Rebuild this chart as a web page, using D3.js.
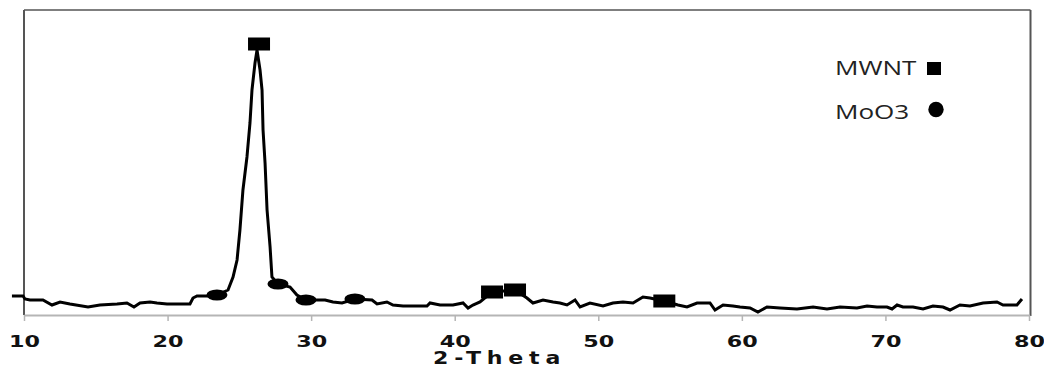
<!DOCTYPE html>
<html lang="en">
<head>
<meta charset="utf-8" />
<title>XRD pattern</title>
<script src="https://d3js.org/d3.v7.min.js"></script>
<style>
  html, body { margin: 0; padding: 0; background: #fff; }
  svg { display: block; }
</style>
</head>
<body>
<div id="chart"></div>
<script>
// diffraction trace (2-theta in degrees, intensity in a.u.)
var twoTheta = [9.16, 9.93, 10.07, 10.42, 11.32, 11.95, 12.51, 13.20, 14.46, 15.29,
  16.48, 17.17, 17.66, 18.08, 18.78, 19.26, 19.96, 21.56, 21.77, 22.05,
  22.75, 23.44, 24.21, 24.56, 24.84, 25.04, 25.25, 25.53, 25.74, 25.88,
  26.09, 26.23, 26.44, 26.58, 26.65, 26.79, 26.93, 27.14, 27.27, 27.69,
  28.53, 29.01, 29.64, 30.48, 30.97, 31.52, 32.15, 33.05, 34.24, 34.59,
  35.28, 35.70, 36.40, 38.07, 38.28, 38.98, 39.88, 40.58, 40.93, 41.27,
  41.76, 42.60, 44.20, 45.03, 45.45, 46.15, 46.85, 47.33, 47.82, 48.38,
  48.73, 49.42, 50.33, 51.02, 51.72, 52.42, 53.11, 53.60, 54.58, 55.55,
  56.18, 56.88, 57.78, 58.13, 58.69, 59.38, 59.87, 60.57, 61.12, 61.75,
  62.66, 63.84, 64.96, 65.93, 66.84, 68.02, 68.72, 69.41, 70.11, 70.46,
  70.81, 71.22, 71.92, 72.62, 73.31, 74.01, 74.50, 75.19, 75.89, 76.80,
  77.77, 78.19, 79.16, 79.51];
var intensity = [76, 76, 64, 60, 60, 40, 52, 44, 32, 40,
  44, 48, 32, 48, 52, 48, 44, 44, 68, 76,
  76, 80, 100, 152, 220, 340, 500, 632, 768, 900,
  1008, 1060, 980, 900, 740, 608, 420, 272, 152, 124,
  112, 80, 60, 60, 60, 52, 48, 64, 60, 44,
  52, 40, 36, 36, 48, 40, 40, 48, 28, 40,
  52, 92, 100, 68, 48, 60, 52, 48, 40, 60,
  32, 48, 36, 48, 52, 48, 72, 68, 56, 40,
  32, 48, 48, 20, 40, 36, 32, 28, 12, 32,
  28, 24, 32, 24, 32, 28, 36, 32, 32, 24,
  40, 32, 32, 24, 36, 32, 20, 40, 36, 48,
  52, 40, 40, 64];

// phase markers
var mwntTheta = [26.37, 42.6, 44.2, 54.6];
var mwntInt = [1084, 92, 100, 56];
var mooTheta = [23.44, 27.69, 29.64, 33.05];
var mooInt = [80, 124, 60, 64];

var xTicks = [10, 20, 30, 40, 50, 60, 70, 80];
var legendLabels = ["MWNT", "MoO3"];
var xTitle = "2-Theta";

var width = 1044, height = 367;
// plot box (window.top is reserved, so use own names)
var plotLeft = 24, plotRight = 1029, plotTop = 10, plotBottom = 315;

var x = d3.scaleLinear().domain([10, 80]).range([plotLeft, plotRight]);
var y = d3.scaleLinear().domain([0, 1220]).range([plotBottom, plotTop]);

var svg = d3.select("#chart").append("svg")
    .attr("width", width)
    .attr("height", height);

// frame: top, left and right in dark grey
svg.append("line")
    .attr("x1", plotLeft).attr("x2", plotRight + 1.5)
    .attr("y1", plotTop).attr("y2", plotTop)
    .attr("stroke", "#555").attr("stroke-width", 1.5);
svg.append("line")
    .attr("x1", plotLeft).attr("x2", plotLeft)
    .attr("y1", plotTop).attr("y2", plotBottom)
    .attr("stroke", "#555").attr("stroke-width", 2);
svg.append("line")
    .attr("x1", plotRight + 1.5).attr("x2", plotRight + 1.5)
    .attr("y1", plotTop).attr("y2", plotBottom + 1)
    .attr("stroke", "#555").attr("stroke-width", 2);

// bottom axis, light grey
var xAxis = d3.axisBottom(x)
    .tickValues(xTicks)
    .tickSize(6)
    .tickSizeOuter(0)
    .tickFormat(d3.format("d"));

var gx = svg.append("g")
    .attr("transform", "translate(0," + plotBottom + ")")
    .call(xAxis);
gx.select(".domain").attr("stroke", "#b5b5b5").attr("stroke-width", 2);
gx.selectAll(".tick line").attr("stroke", "#b5b5b5").attr("stroke-width", 1.5);
gx.selectAll(".tick text")
    .attr("y", 32)
    .attr("dy", null)
    .attr("fill", "#111")
    .attr("font-family", "DejaVu Sans")
    .attr("font-weight", "bold")
    .attr("font-size", 16.5)
    .attr("transform", "scale(1.35,1)");

// axis title
svg.append("g")
    .attr("transform", "translate(433,364) scale(1.3,1)")
    .append("text")
    .attr("x", 0)
    .attr("font-family", "DejaVu Sans")
    .attr("font-weight", "bold")
    .attr("font-size", 17)
    .attr("fill", "#111")
    .attr("textLength", 98)
    .attr("lengthAdjust", "spacing")
    .text(xTitle);

// the trace
var pts = twoTheta.map(function(t, i) { return [t, intensity[i]]; });
var line = d3.line()
    .x(function(d) { return x(d[0]); })
    .y(function(d) { return y(d[1]); });

svg.append("path")
    .datum(pts)
    .attr("fill", "none")
    .attr("stroke", "#000")
    .attr("stroke-width", 3)
    .attr("stroke-linejoin", "miter")
    .attr("d", line);

// MWNT markers (squares, stretched like the picture)
svg.selectAll("rect.mwnt")
    .data(mwntTheta)
    .enter()
    .append("rect")
    .attr("class", "mwnt")
    .attr("x", function(d) { return x(d) - 11; })
    .attr("y", function(d, i) { return y(mwntInt[i]) - 6.5; })
    .attr("width", 22)
    .attr("height", 13)
    .attr("fill", "#000");

// MoO3 markers (dots)
svg.selectAll("ellipse.moo")
    .data(mooTheta)
    .enter()
    .append("ellipse")
    .attr("class", "moo")
    .attr("cx", function(d) { return x(d); })
    .attr("cy", function(d, i) { return y(mooInt[i]); })
    .attr("rx", 10.5)
    .attr("ry", 5.5)
    .attr("fill", "#000");

// legend
var legend = svg.append("g").attr("transform", "translate(835,0)");
legend.selectAll("text")
    .data(legendLabels)
    .enter()
    .append("text")
    .attr("transform", function(d, i) { return "translate(0," + (75 + i * 44) + ") scale(1.27,1)"; })
    .attr("font-family", "Open Sans")
    .attr("font-size", 20.5)
    .attr("fill", "#222")
    .text(function(d) { return d; });

legend.append("rect")
    .attr("x", 92).attr("y", 62)
    .attr("width", 14).attr("height", 13)
    .attr("fill", "#000");
legend.append("circle")
    .attr("cx", 101).attr("cy", 109.5)
    .attr("r", 7.7)
    .attr("fill", "#000");
</script>
</body>
</html>
